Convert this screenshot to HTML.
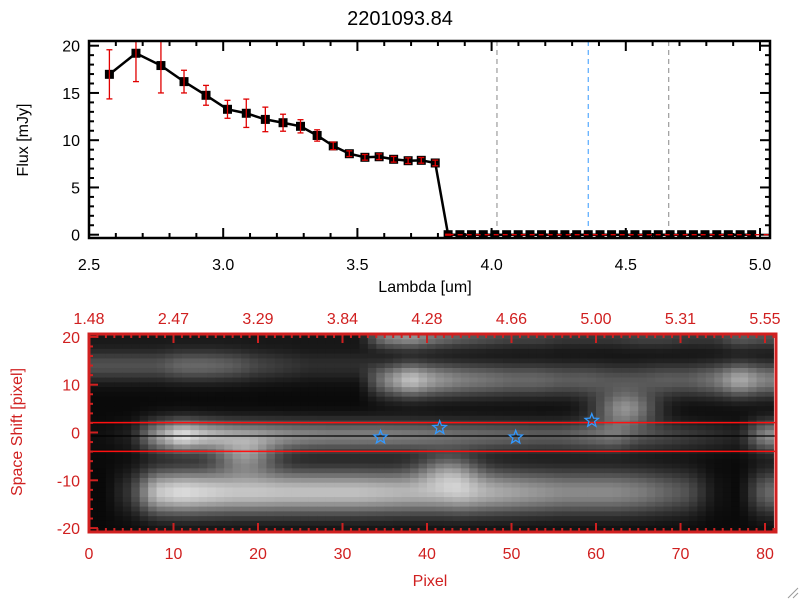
<!DOCTYPE html>
<html><head><meta charset="utf-8"><style>
html,body{margin:0;padding:0;background:#fff;}
svg{display:block;font-family:"Liberation Sans",sans-serif;}
</style></head><body>
<svg id="c" width="800" height="600" viewBox="0 0 800 600">
<rect width="800" height="600" fill="#fff"/>
<text x="400" y="25" text-anchor="middle" font-size="20" fill="#000">2201093.84</text>
<defs><clipPath id="topclip"><rect x="89" y="41" width="681" height="197"/></clipPath></defs>
<g id="topg"></g>
<g id="botg"></g>
<text x="425" y="292" text-anchor="middle" font-size="16">Lambda [um]</text>
<text transform="translate(28,140) rotate(-90)" text-anchor="middle" font-size="16">Flux [mJy]</text>
<text x="430" y="586" text-anchor="middle" font-size="16" fill="#d02020">Pixel</text>
<text transform="translate(22,432) rotate(-90)" text-anchor="middle" font-size="16" fill="#d02020">Space Shift [pixel]</text>
<g stroke="#999" stroke-width="1"><line x1="788" y1="598" x2="798" y2="588"/><line x1="793" y1="598" x2="798" y2="593"/></g>
</svg>
<script>
const lambdas=[2.576,2.675,2.768,2.854,2.936,3.016,3.086,3.157,3.223,3.288,3.35,3.41,3.47,3.528,3.581,3.635,3.689,3.738,3.79,3.838,3.882,3.925,3.969,4.012,4.056,4.099,4.143,4.186,4.23,4.273,4.317,4.36,4.404,4.447,4.491,4.534,4.578,4.621,4.665,4.708,4.752,4.795,4.839,4.882,4.926,4.969];
const fluxes=[16.97,19.2,17.9,16.2,14.75,13.27,12.85,12.2,11.85,11.47,10.5,9.4,8.57,8.19,8.25,7.98,7.83,7.87,7.59,0,0,0,0,0,0,0,0,0,0,0,0,0,0,0,0,0,0,0,0,0,0,0,0,0,0,0];
const errors=[2.6,3.0,2.9,1.2,1.05,0.95,1.5,1.3,0.9,0.7,0.6,0.4,0.3,0.3,0.3,0.3,0.3,0.3,0.3,0.05,0,0,0,0,0,0,0,0,0,0,0,0,0,0,0,0,0,0,0,0,0,0,0,0,0,0];
const xTicks=[2.5,3.0,3.5,4.0,4.5,5.0];
const xTickLabels=["2.5","3.0","3.5","4.0","4.5","5.0"];
const yTicks=[0,5,10,15,20];
const markerLines=[4.02,4.36,4.66];
const markerColors=["#888","#3399ff","#888"];
const pixTicks=[0,10,20,30,40,50,60,70,80];
const topWaveLabels=["1.48","2.47","3.29","3.84","4.28","4.66","5.00","5.31","5.55"];
const shiftTicks=[20,10,0,-10,-20];
const starPix=[34.5,41.5,50.5,59.5];
const starShift=[-1,1,-1,2.5];
const bandMain=[0.03,0.1,0.6,0.95,0.75,0.62,0.58,0.55,0.52,0.5,0.5,0.5,0.48,0.45,0.42,0.4,0.38,0.35,0.35,0.4,0.45,0.3,0.25,0.2,0.15,0.1,0.55];
const bandLower=[0,0.2,0.8,0.9,0.85,0.8,0.8,0.78,0.78,0.78,0.78,0.75,0.72,0.72,0.78,0.7,0.65,0.6,0.55,0.55,0.55,0.5,0.4,0.3,0.05,0,0.4];
const bandUpper=[0,0,0,0,0,0,0,0,0,0,0,0.5,0.8,0.6,0.5,0.45,0.4,0.4,0.35,0.35,0.3,0.3,0.35,0.35,0.45,0.7,0.5];
const bandFaint=[0.3,0.3,0.3,0.4,0.4,0.35,0.25,0.2,0.15,0.15,0.15,0,0,0,0,0,0,0,0,0,0,0,0,0,0,0,0];
const bandTop=[0.05,0.05,0.05,0.05,0.05,0.05,0.05,0.05,0.05,0.05,0.05,0.5,0.6,0.45,0.35,0.3,0.25,0.25,0.2,0.2,0.2,0.25,0.25,0.2,0.2,0.35,0.3];
const bandCenters=[-0.7,-12.5,11,14,20];
const blobPix=[63,18,42];
const blobShift=[5,-5,-8];
const blobAmp=[0.55,0.45,0.35];

const NS="http://www.w3.org/2000/svg";
function mk(p,t,a){const e=document.createElementNS(NS,t);for(const k in a)e.setAttribute(k,a[k]);p.appendChild(e);return e;}
const topG=document.getElementById('topg'),botG=document.getElementById('botg');
const X=l=>89+(l-2.5)*268.4, Y=f=>234.7-f*9.45;
for(let v=2.5;v<=5.0001;v+=0.1){const maj=Math.abs(v*2-Math.round(v*2))<1e-6;const L=maj?10:5;
 const t1=mk(topG,'line',{x1:X(v),x2:X(v),y1:238,y2:238-L,stroke:'#000','stroke-width':2});
 
 
 mk(topG,'line',{x1:X(v),x2:X(v),y1:41,y2:41+L,stroke:'#000','stroke-width':2});}
xTicks.forEach((v,i)=>{const t=mk(topG,'text',{x:X(v),y:270,'text-anchor':'middle','font-size':16});t.textContent=xTickLabels[i];
 
 });
for(let v=0;v<=20.5;v+=1){const L=v%5===0?10:5;
 mk(topG,'line',{x1:89,x2:89+L,y1:Y(v),y2:Y(v),stroke:'#000','stroke-width':2});
 mk(topG,'line',{x1:770,x2:770-L,y1:Y(v),y2:Y(v),stroke:'#000','stroke-width':2});}
yTicks.forEach(v=>{const t=mk(topG,'text',{x:80,y:Y(v)+6,'text-anchor':'end','font-size':16});t.textContent=v;
 
 });
markerLines.forEach((v,i)=>{const l=mk(topG,'line',{x1:X(v),x2:X(v),y1:41,y2:238,stroke:markerColors[i],'stroke-width':1,'stroke-dasharray':'5,4'});
 
 });
const g=mk(topG,'g',{'clip-path':'url(#topclip)'});
const pl=mk(g,'polyline',{points:lambdas.map((l,i)=>X(l)+','+Y(fluxes[i])).join(' '),fill:'none',stroke:'#000','stroke-width':2.5});


lambdas.forEach((l,i)=>{const s=mk(g,'rect',{x:X(l)-4.5,y:Y(fluxes[i])-4.5,width:9,height:9,fill:'#000'});
 
 
 if(errors[i]>0){const e=mk(g,'g',{stroke:'#e00000','stroke-width':1.3});
  
  
  const y1=Y(fluxes[i]+errors[i]),y2=Y(fluxes[i]-errors[i]),x=X(l);
  mk(e,'line',{x1:x,x2:x,y1:y1,y2:y2});mk(e,'line',{x1:x-3,x2:x+3,y1:y1,y2:y1});mk(e,'line',{x1:x-3,x2:x+3,y1:y2,y2:y2});}});
const zl=mk(topG,'line',{x1:X(3.84),x2:770,y1:Y(0),y2:Y(0),stroke:'#e00000','stroke-width':1.3,'stroke-dasharray':'5,4'});


mk(topG,'rect',{x:89,y:41,width:681,height:197,fill:'none',stroke:'#000','stroke-width':2.5});

const PX=p=>89+p*8.45, SY=s=>432.5-s*4.78;
const cells=mk(botG,'g',{});
function bandAt(arr,c){const f=c/3-0.5;const i0=Math.max(0,Math.min(26,Math.floor(f)));const i1=Math.min(26,i0+1);const t=Math.max(0,Math.min(1,f-i0));return arr[i0]*(1-t)+arr[i1]*t;}
for(let c=0;c<81;c++){
 for(let r=-20;r<=20;r++){
  const amps=[bandAt(bandMain,c),bandAt(bandLower,c),bandAt(bandUpper,c),bandAt(bandFaint,c),bandAt(bandTop,c)];const sig=[2.3,3.3,2.5,2.3,1.8];
  let v=0.04;amps.forEach((a,k)=>{const d=(r-bandCenters[k])/sig[k];v+=a*Math.exp(-0.5*d*d);});
  blobPix.forEach((bp,k)=>{const dx=(c-bp)/2.5,dy=(r-blobShift[k])/2.5;v+=blobAmp[k]*Math.exp(-0.5*(dx*dx+dy*dy));});
  v=Math.max(0,Math.min(1,v));const gg=Math.round(v*235);
  const rc=mk(cells,'rect',{x:PX(c),y:SY(r+0.5)-0.5,width:8.95,height:5.3,fill:`rgb(${gg},${gg},${gg})`});
  
  }}
mk(botG,'line',{x1:89,x2:776,y1:436,y2:436,stroke:'#000','stroke-width':1.2});
[3,-3].forEach(s=>{const l=mk(botG,'line',{x1:89,x2:776,y1:SY(s)+4.5,y2:SY(s)+4.5,stroke:'#ff1010','stroke-width':1.5});
 
 });
starPix.forEach((p,i)=>{const cx=PX(p),cy=SY(starShift[i]);let pts=[];
 for(let k=0;k<10;k++){const a=-Math.PI/2+k*Math.PI/5,R=k%2?3:7;pts.push((cx+R*Math.cos(a)).toFixed(1)+','+(cy+R*Math.sin(a)).toFixed(1));}
 const s=mk(botG,'polygon',{points:pts.join(' '),fill:'none',stroke:'#3399ff','stroke-width':1.3});
 
 });
const red='#d02020';
for(let p=0;p<=81;p++){const L=p%10===0?9:4;
 mk(botG,'line',{x1:PX(p),x2:PX(p),y1:532,y2:532-L,stroke:red,'stroke-width':2});
 mk(botG,'line',{x1:PX(p),x2:PX(p),y1:334,y2:334+L,stroke:red,'stroke-width':2});}
pixTicks.forEach((p,i)=>{const t=mk(botG,'text',{x:PX(p),y:559,'text-anchor':'middle','font-size':16,fill:red});t.textContent=p;
 
 
 const u=mk(botG,'text',{x:PX(p),y:324,'text-anchor':'middle','font-size':16,fill:red});u.textContent=topWaveLabels[i];
 
 });
for(let s=-20;s<=20;s+=2){const L=s%10===0?9:4;mk(botG,'line',{x1:89,x2:89+L,y1:SY(s),y2:SY(s),stroke:red,'stroke-width':2});}
shiftTicks.forEach(s=>{const t=mk(botG,'text',{x:80,y:SY(s)+6,'text-anchor':'end','font-size':16,fill:red});t.textContent=s;
 
 });
mk(botG,'rect',{x:89,y:334,width:687,height:198,fill:'none',stroke:red,'stroke-width':3});
</script>
</body></html>
